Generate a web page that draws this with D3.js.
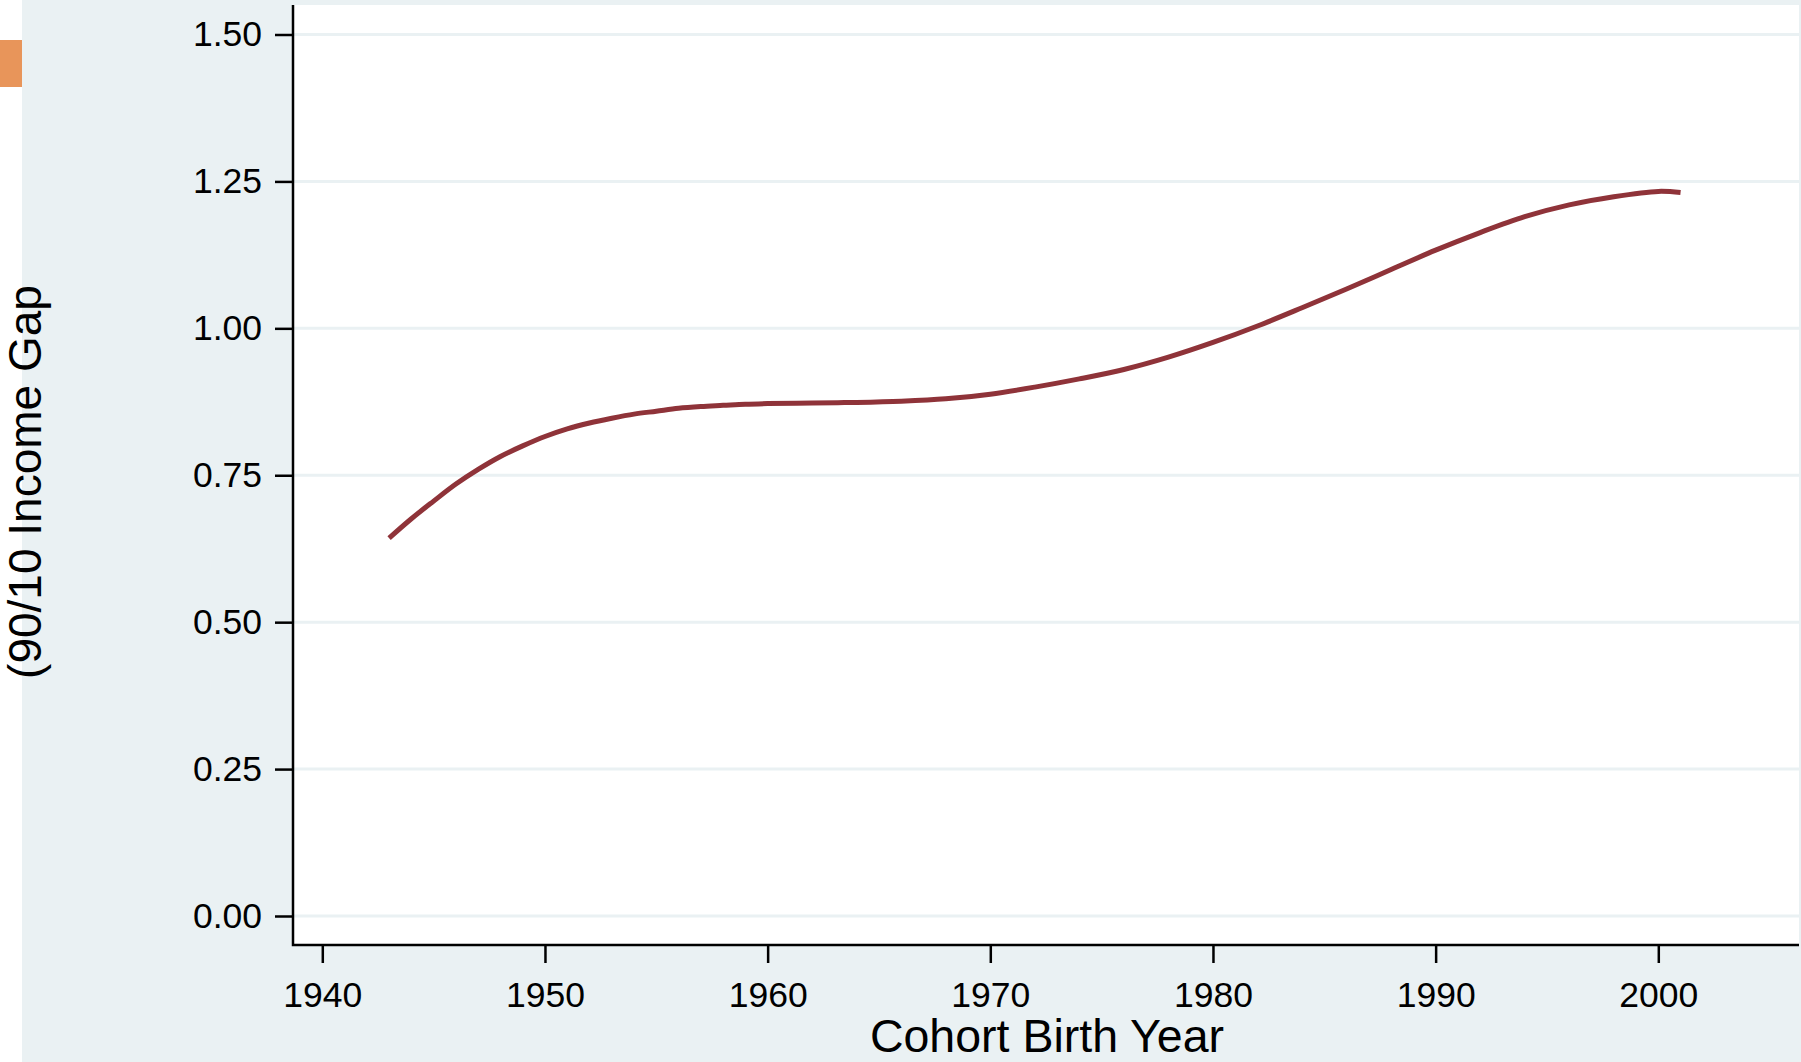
<!DOCTYPE html>
<html>
<head>
<meta charset="utf-8">
<script src="https://cdn.jsdelivr.net/npm/d3@7"></script>
<style>
  html, body { margin: 0; padding: 0; background: #fff; }
  text { font-family: "Liberation Sans", Arial, sans-serif; fill: #000; }
</style>
</head>
<body>
<div id="chart"></div>
<script>
// cohort birth years and smoothed 90/10 gap
const years = [1943, 1944, 1945, 1946, 1947, 1948, 1949, 1950, 1951, 1952, 1953, 1954,
  1955, 1956, 1957, 1958, 1959, 1960, 1962, 1964, 1966, 1968, 1970, 1972, 1974, 1976,
  1978, 1980, 1982, 1984, 1986, 1988, 1990, 1992, 1994, 1996, 1998, 2000, 2001];
const gap = [0.643, 0.676, 0.706, 0.735, 0.760, 0.782, 0.800, 0.816, 0.829, 0.839, 0.847, 0.854,
  0.859, 0.864, 0.867, 0.869, 0.871, 0.872, 0.873, 0.874, 0.876, 0.880, 0.888, 0.900, 0.914, 0.930,
  0.951, 0.976, 1.004, 1.035, 1.067, 1.100, 1.133, 1.163, 1.190, 1.210, 1.224, 1.233, 1.231];

const xTicks = [1940, 1950, 1960, 1970, 1980, 1990, 2000];
const yTicks = [0, 0.25, 0.5, 0.75, 1.0, 1.25, 1.5];

const W = 1801, H = 1062;
const plot = { left: 293, right: 1799, top: 5, bottom: 945 };
const bg = "#eaf1f3";

const svg = d3.select("#chart").append("svg")
    .attr("width", W)
    .attr("height", H);

svg.append("rect").attr("x", 0).attr("y", 0).attr("width", W).attr("height", H).attr("fill", "#fff");
svg.append("rect").attr("x", 22).attr("y", 0).attr("width", W - 22).attr("height", H).attr("fill", bg);
svg.append("rect").attr("x", 0).attr("y", 40).attr("width", 22).attr("height", 47).attr("fill", "#e8955a");

svg.append("rect")
    .attr("x", plot.left).attr("y", plot.top)
    .attr("width", plot.right - plot.left)
    .attr("height", plot.bottom - plot.top)
    .attr("fill", "#fff");

const x = d3.scaleLinear()
    .domain([1940, 2000])
    .range([322.3, 1658.3]);

const y = d3.scaleLinear()
    .domain([0, 1.5])
    .range([916, 34.5]);

// gridlines
svg.append("g")
  .selectAll("line")
  .data(yTicks)
  .join("line")
    .attr("x1", plot.left)
    .attr("x2", plot.right)
    .attr("y1", d => y(d))
    .attr("y2", d => y(d))
    .attr("stroke", bg)
    .attr("stroke-width", 3);

// axes
const xAxis = svg.append("g")
    .attr("transform", `translate(0,${plot.bottom})`)
    .call(d3.axisBottom(x).tickValues(xTicks).tickFormat(d3.format("d"))
      .tickSize(18).tickPadding(19).tickSizeOuter(0));

const yAxis = svg.append("g")
    .attr("transform", `translate(${plot.left},0)`)
    .call(d3.axisLeft(y).tickValues(yTicks).tickFormat(d3.format(".2f"))
      .tickSize(18).tickPadding(13).tickSizeOuter(0));

[xAxis, yAxis].forEach(g => {
  g.select(".domain").remove();
  g.selectAll(".tick line").attr("stroke", "#000").attr("stroke-width", 2.5);
  g.selectAll(".tick text")
      .attr("font-size", 35.5)
      .attr("font-family", "'Liberation Sans', Arial, sans-serif")
      .attr("fill", "#000");
});

svg.append("path")
    .attr("d", `M${plot.left},${plot.top}V${plot.bottom}H${plot.right}`)
    .attr("fill", "none")
    .attr("stroke", "#000")
    .attr("stroke-width", 2.5);

// the curve
const line = d3.line()
    .x((d, i) => x(years[i]))
    .y(d => y(d))
    .curve(d3.curveCatmullRom);

svg.append("path")
    .datum(gap)
    .attr("d", line)
    .attr("fill", "none")
    .attr("stroke", "#8f3339")
    .attr("stroke-width", 5);

// titles
svg.append("text")
    .attr("x", 1047)
    .attr("y", 1052)
    .attr("text-anchor", "middle")
    .attr("font-size", 46.5)
    .text("Cohort Birth Year");

svg.append("text")
    .attr("transform", "translate(41,482) rotate(-90)")
    .attr("text-anchor", "middle")
    .attr("font-size", 46)
    .text("(90/10 Income Gap");
</script>
</body>
</html>
